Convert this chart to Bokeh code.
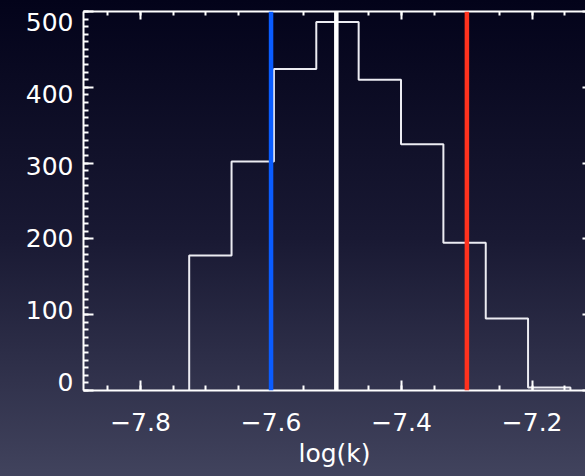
from bokeh.plotting import figure
from bokeh.models import LinearAxis, Span, Range1d, FixedTicker
from bokeh.embed import file_html
from bokeh.resources import INLINE

# ---- data ----
bin_edges = [-7.7254, -7.6605, -7.5956, -7.5307, -7.4658, -7.4009,
             -7.3360, -7.2711, -7.2063, -7.1414]
bin_counts = [178, 302, 424, 486, 410, 325, 195, 95, 4]
marker_values = [-7.6, -7.5, -7.3]          # blue, white, red vertical lines
x_ticks = [-7.8, -7.6, -7.4, -7.2]
x_tick_labels = ["\u22127.8", "\u22127.6", "\u22127.4", "\u22127.2"]
y_ticks = [0, 100, 200, 300, 400, 500]
y_tick_labels = ["0", "100", "200", "300", "400", "500"]
x_title = "log(k)"

# ---- styles ----
marker_colors = ["#0a5cff", "#ffffff", "#ff321e"]
FONT = "DejaVu Sans"
FS = "25px"
WHITE = "#ffffff"
X0, X1 = -7.8873, -7.1183
# label scale is slightly compressed so the end labels sit inside the figure
LABEL_RANGE = (-11.5, 514.9)

p = figure(width=585, height=476,
           x_range=Range1d(X0, X1), y_range=Range1d(0, 500),
           output_backend="svg", toolbar_location=None,
           x_axis_location=None, y_axis_location=None,
           min_border_left=83, min_border_right=0,
           min_border_top=11, min_border_bottom=86)
p.extra_y_ranges = {"lab": Range1d(*LABEL_RANGE)}
p.background_fill_alpha = 0
p.border_fill_alpha = 0
p.outline_line_color = None
p.grid.visible = False
p.styles = {"background": "linear-gradient(to bottom, #03031a 0%, #191933 50%, #41435d 100%)"}


def style_axis(ax, ticks, labels, show_labels, minor, tick_in=10, minor_in=5, line=True):
    ax.ticker = FixedTicker(ticks=ticks, minor_ticks=minor)
    ax.axis_line_color = WHITE if line else None
    ax.axis_line_width = 2
    ax.major_tick_line_color = WHITE if tick_in > 0 else None
    ax.major_tick_line_width = 2
    ax.minor_tick_line_color = WHITE if minor_in > 0 else None
    ax.minor_tick_line_width = 2
    ax.major_tick_in = tick_in
    ax.major_tick_out = 0
    ax.minor_tick_in = minor_in
    ax.minor_tick_out = 0
    ax.major_label_text_font = FONT
    ax.major_label_text_font_size = FS
    if show_labels:
        ax.major_label_overrides = {t: l for t, l in zip(ticks, labels)}
        ax.major_label_text_color = WHITE
    else:
        ax.major_label_text_color = None
        ax.major_label_standoff = 0


x_minor = [round(-7.9 + 0.05 * i, 3) for i in range(17)]
y_minor = list(range(0, 501, 10))

xb = LinearAxis()
style_axis(xb, x_ticks, x_tick_labels, True, x_minor)
xb.major_label_standoff = 22
xb.axis_label = x_title
xb.axis_label_text_font = FONT
xb.axis_label_text_font_size = FS
xb.axis_label_text_font_style = "normal"
xb.axis_label_text_color = WHITE
xb.axis_label_standoff = 5
p.add_layout(xb, "below")

xt = LinearAxis()
style_axis(xt, x_ticks, x_tick_labels, False, x_minor, tick_in=8, minor_in=4)
p.add_layout(xt, "above")

# left: ticks on the data scale
yl = LinearAxis()
style_axis(yl, y_ticks, y_tick_labels, False, y_minor)
p.add_layout(yl, "left")

# left: the tick labels
ylab = LinearAxis(y_range_name="lab")
style_axis(ylab, y_ticks, y_tick_labels, True, [], tick_in=0, minor_in=0, line=False)
ylab.major_label_standoff = 10
p.add_layout(ylab, "left")

yr = LinearAxis()
style_axis(yr, y_ticks, y_tick_labels, False, y_minor, tick_in=3, minor_in=0, line=False)
p.add_layout(yr, "right")

# histogram outline (step)
xs = [bin_edges[0]]
ys = [0]
for i, c in enumerate(bin_counts):
    xs += [bin_edges[i], bin_edges[i + 1]]
    ys += [c, c]
xs.append(bin_edges[-1])
ys.append(0)
p.line(xs, ys, line_color="#ececf2", line_width=2)

for v, col in zip(marker_values, marker_colors):
    p.add_layout(Span(location=v, dimension="height", line_color=col, line_width=4.5))

open("out.html", "w").write(file_html(p, INLINE))
